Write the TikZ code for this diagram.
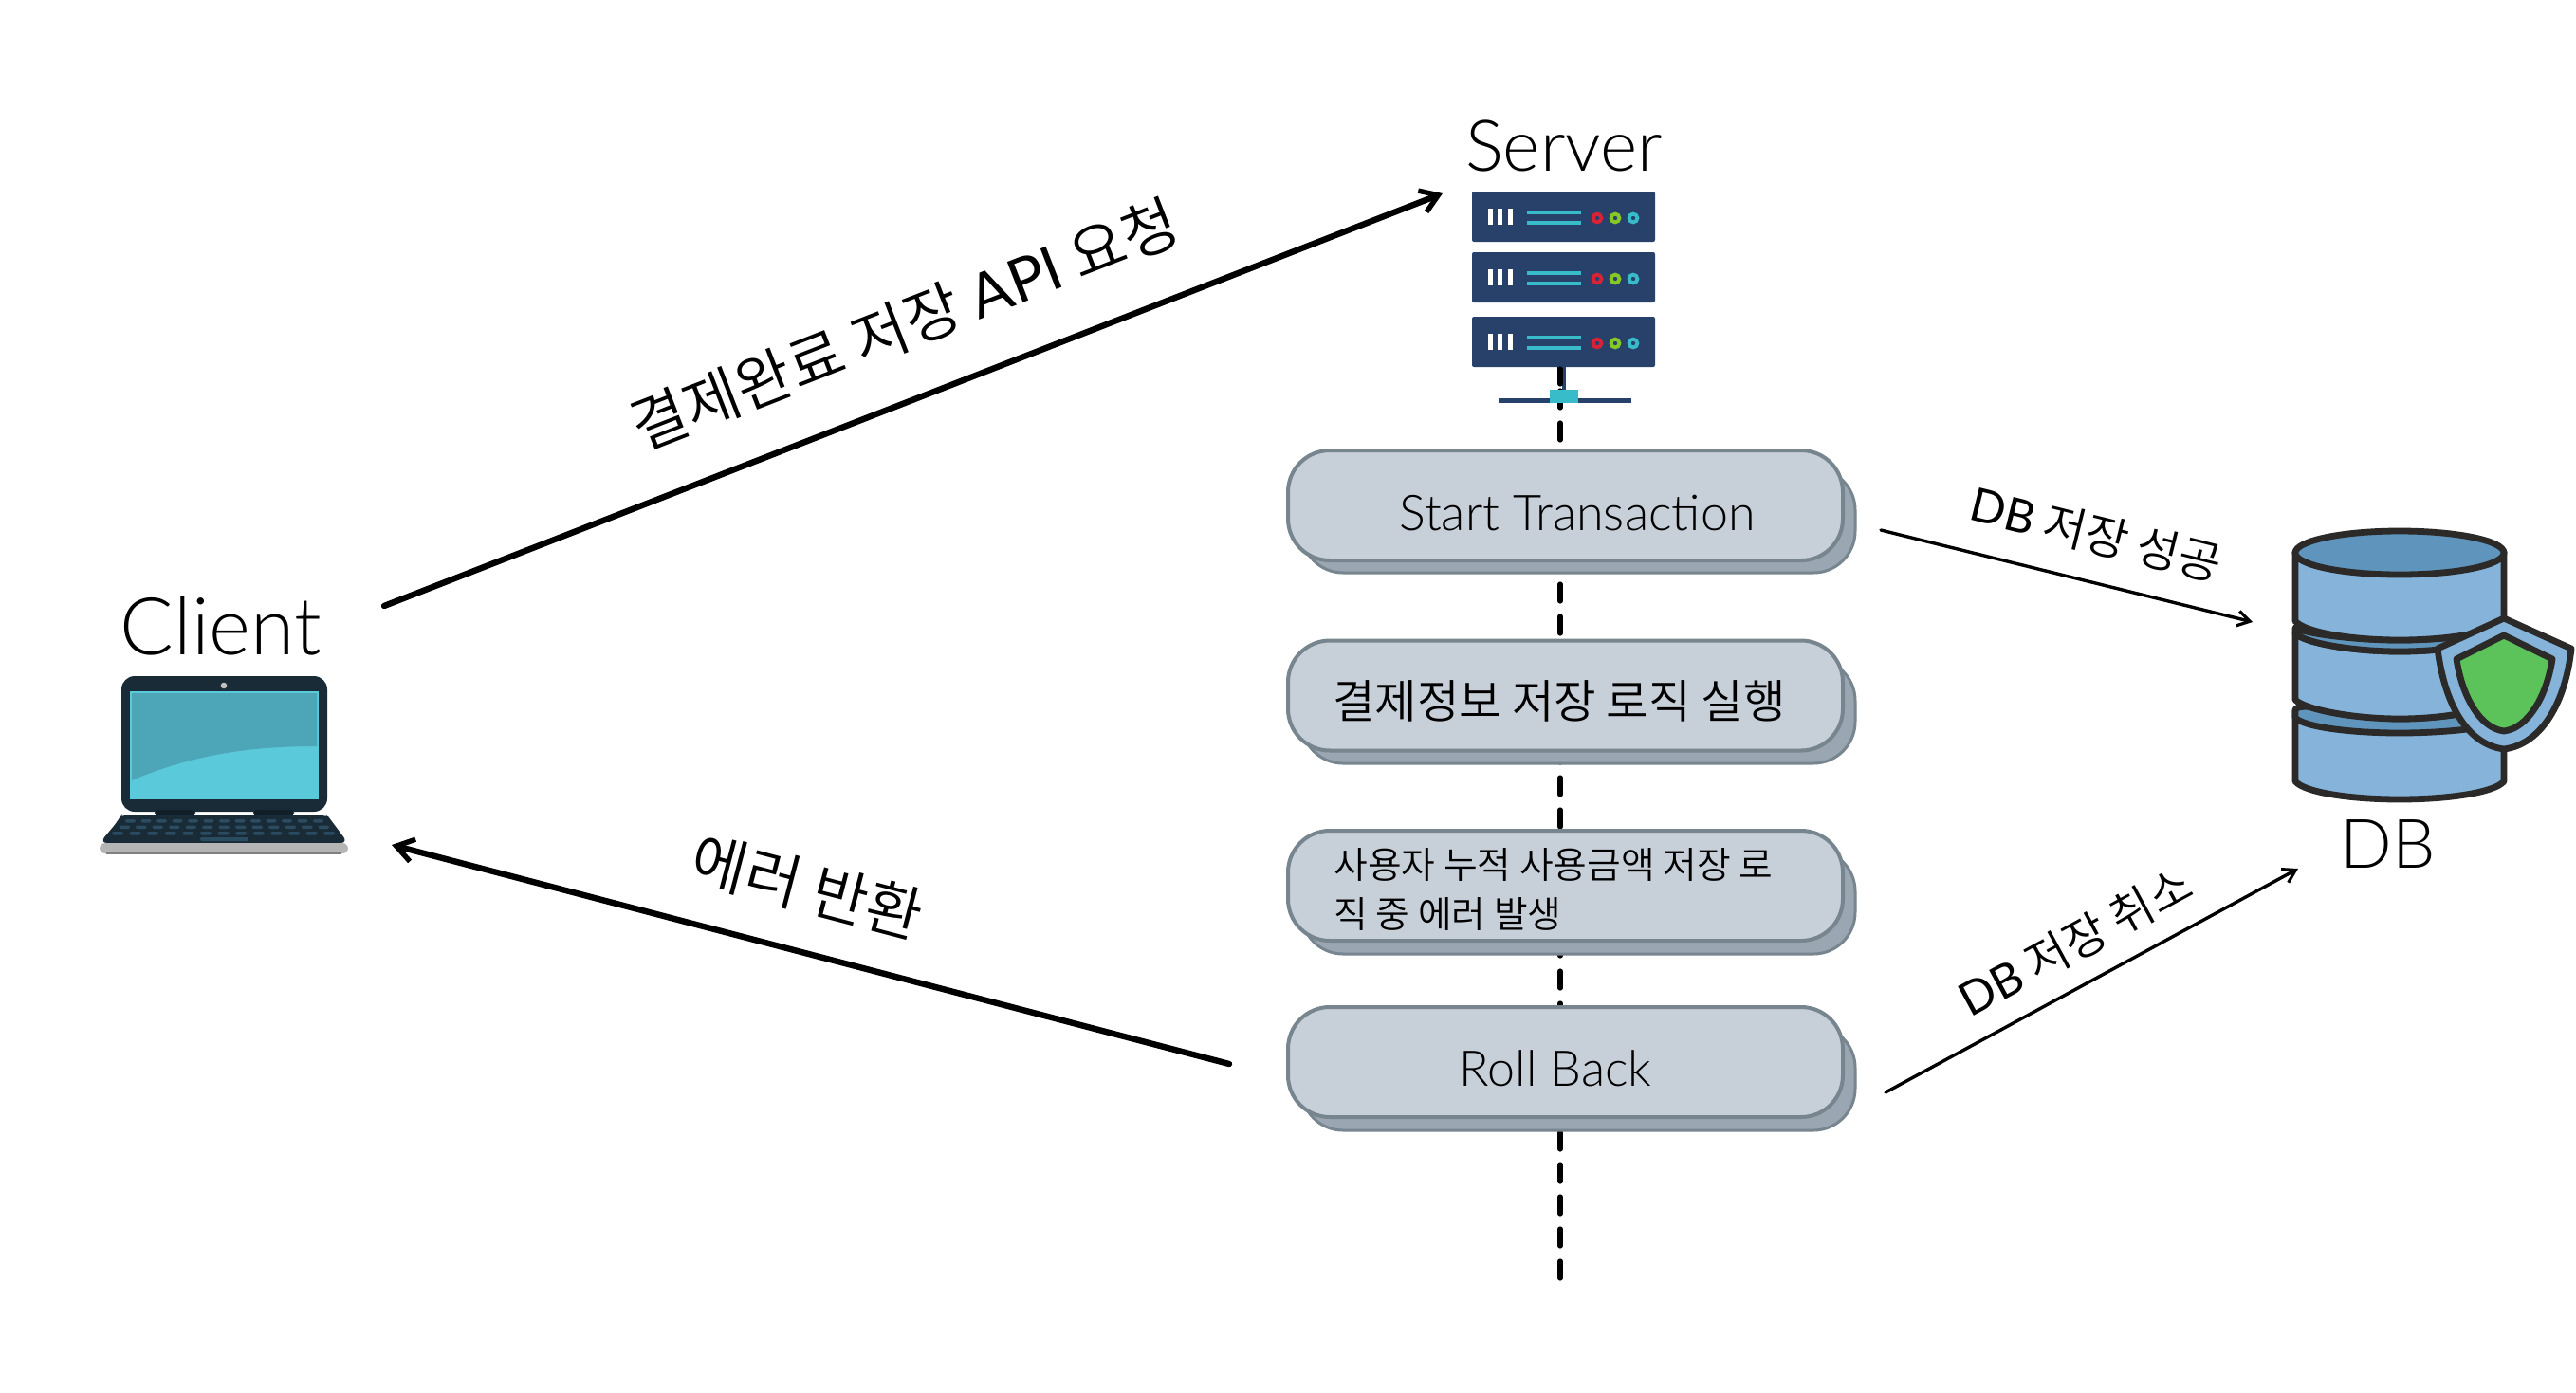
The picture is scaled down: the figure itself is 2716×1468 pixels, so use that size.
\documentclass[tikz,border=0pt]{standalone}
\usepackage{fontspec}
\setmainfont{Lato Light}
\newfontfamily\krfont{Noto Sans CJK KR DemiLight}
\newfontfamily\latfont{Lato}
\usetikzlibrary{arrows.meta,calc}
\definecolor{boxfill}{HTML}{C7CFD9}
\definecolor{boxback}{HTML}{9AA6B2}
\definecolor{boxline}{HTML}{77858F}
\definecolor{rack}{HTML}{28416B}
\definecolor{rackteal}{HTML}{38BCC9}
\definecolor{rackred}{HTML}{D82334}
\definecolor{rackgreen}{HTML}{86C824}
\definecolor{lapdark}{HTML}{1A2B38}
\definecolor{lapdarker}{HTML}{111F29}
\definecolor{lapkey}{HTML}{2B4C60}
\definecolor{lapsilver}{HTML}{B5B5B5}
\definecolor{scr}{HTML}{5AC9D9}
\definecolor{scrdark}{HTML}{4CA6B7}
\definecolor{dbfill}{HTML}{85B3D9}
\definecolor{dbdark}{HTML}{5F94BD}
\definecolor{dbline}{HTML}{2B2A29}
\definecolor{shieldgreen}{HTML}{5CC25A}
\tikzset{
  x=0.5pt,y=-0.5pt,
  frontbox/.style={draw=boxline,line width=2pt,fill=boxfill,rounded corners=22pt,minimum width=292.5pt,minimum height=58pt,inner sep=0pt,align=center},
  backbox/.style={draw=boxline,line width=1.5pt,fill=boxback,rounded corners=22pt,minimum width=292pt,minimum height=55pt,inner sep=0pt},
  boxtext/.style={font=\fontsize{26}{30}\selectfont},
  boxkr/.style={font=\krfont\fontsize{24.2}{29}\selectfont},
  title/.style={inner sep=0pt,anchor=base,font=\fontsize{37.5}{40}\selectfont},
  bigarrow/.style={line width=3.2pt,line cap=round,-{Straight Barb[length=9pt,width=12pt,line width=2.7pt]}},
  thinarrow/.style={line width=1.7pt,line cap=round,-{Straight Barb[length=6.5pt,width=8pt,line width=1.6pt]}},
  biglabel/.style={inner sep=0pt,font=\krfont\fontsize{32}{36}\selectfont},
  smalllabel/.style={inner sep=0pt,font=\krfont\fontsize{24.5}{30}\selectfont},
  dbstroke/.style={draw=dbline,line width=3.4pt,line join=round},
  lifeline/.style={line width=2.6pt,line cap=round,dash pattern=on 9pt off 8pt},
  rackring/.style={line width=1.9pt},
}
\newcommand{\lat}[1]{{\latfont #1}}
\begin{document}
\begin{tikzpicture}
\useasboundingbox (0,0) rectangle (2716,1468);
\fill[white] (0,0) rectangle (2716,1468);

% lifeline
\coordinate (lifetop) at (1645,378);
\coordinate (lifeend) at (1645,1348);
\draw[lifeline] (lifetop) -- (lifeend);

% server icon
\foreach \ry in {202,266,334}{
  \fill[rack,rounded corners=1pt] (1552,\ry) rectangle (1745,\ry+53);
  \foreach \bx in {1569,1579,1590}
    \fill[white] (\bx,\ry+18) rectangle (\bx+4.5,\ry+35);
  \fill[rackteal] (1610,\ry+20) rectangle (1667,\ry+24);
  \fill[rackteal] (1610,\ry+31) rectangle (1667,\ry+35);
  \draw[rackred,rackring] (1684,\ry+28) circle[radius=4.4];
  \draw[rackgreen,rackring] (1703,\ry+28) circle[radius=4.4];
  \draw[rackteal,rackring] (1722,\ry+28) circle[radius=4.4];
}
\fill[rack] (1647,387) rectangle (1651,415);
\fill[rack] (1580,420) rectangle (1720,425);
\draw[line width=2.6pt,line cap=round] (1645,389) -- (1645,405);
\fill[rackteal] (1634,411) rectangle (1664,425);

% boxes
\node[backbox] (s1) at (1664,549) {};
\node[frontbox] (b1) at (1650.5,533) {};
\node[backbox] (s2) at (1664,750) {};
\node[frontbox] (b2) at (1650.5,733.5) {};
\node[backbox] (s3) at (1664,951) {};
\node[frontbox] (b3) at (1650.5,934) {};
\node[backbox] (s4) at (1664,1137) {};
\node[frontbox] (b4) at (1650.5,1120) {};
\node[boxtext,inner sep=0pt] (t1) at (1663,541) {Start Transaction};
\node[boxkr,inner sep=0pt] (t2) at (1644,739) {결제정보 저장 로직 실행};
\node[anchor=west,align=left,inner sep=0pt,font=\krfont\fontsize{19.4}{26}\selectfont] (t3) at (1406,938) {사용자 누적 사용금액 저장 로\\직 중 에러 발생};
\node[boxtext,inner sep=0pt] (t4) at (1640,1127) {Roll Back};

% titles
\node[title] (server) at (1649,180) {Server};
\node[title,font=\fontsize{42}{46}\selectfont] (client) at (233,690) {Client};
\node[title,font=\fontsize{36}{40}\selectfont] (db) at (2518,915) {DB};

% laptop
\fill[lapdark,rounded corners=7pt] (128,713) rectangle (345,856);
\fill[scr] (137,729) rectangle (336,843);
\fill[scrdark] (139,731) -- (334,731) -- (334,787) .. controls (260,787) and (200,797) .. (139,823) -- cycle;
\fill[lightgray] (236,723) circle[radius=3.3];
\fill[lapdarker,rounded corners=2pt] (163,854) rectangle (206,860);
\fill[lapdarker,rounded corners=2pt] (267,854) rectangle (310,860);
\fill[lapdark,rounded corners=4pt] (105,889) -- (125,865) .. controls (127,861) and (130,859) .. (140,859) -- (330,859) .. controls (343,859) and (346,861) .. (349,865) -- (367,889) -- cycle;
\fill[lapsilver,rounded corners=3pt] (105,889) -- (367,889) -- (367,900) -- (105,900) -- cycle;
\fill[gray] (112,898) rectangle (360,900.5);
\foreach \i in {0,...,12}{
  \fill[lapkey,rounded corners=1pt] ({132+\i*16.5},864) rectangle ++(11,3.5);
  \fill[lapkey,rounded corners=1pt] ({125.5+\i*17.5},870.5) rectangle ++(11.5,3.5);
  \fill[lapkey,rounded corners=1pt] ({118+\i*18.6},877) rectangle ++(12,3.5);
}
\fill[lapkey,rounded corners=1pt] (211,883) rectangle (262,887);

% database
\path[fill=dbfill,dbstroke] (2420,804) -- (2420,824) .. controls (2430,836) and (2480,843) .. (2530,843) .. controls (2580,843) and (2630,836) .. (2640,824) -- (2640,760) -- (2420,750) -- cycle;
\path[fill=dbdark,dbstroke] (2420,748) .. controls (2430,738) and (2480,758) .. (2530,758) .. controls (2580,758) and (2630,748) .. (2640,740) -- (2640,760) .. controls (2630,767) and (2580,773) .. (2530,773) .. controls (2480,773) and (2430,767) .. (2420,757) -- cycle;
\path[fill=dbfill,dbstroke] (2420,668) .. controls (2430,678) and (2480,687) .. (2530,687) .. controls (2580,687) and (2630,678) .. (2640,668) -- (2640,735) .. controls (2630,748) and (2580,758) .. (2530,758) .. controls (2480,758) and (2430,748) .. (2420,738) -- cycle;
\path[fill=dbdark,dbstroke] (2420,662) .. controls (2430,668) and (2480,675) .. (2530,675) .. controls (2580,675) and (2630,668) .. (2640,662) -- (2640,668) .. controls (2630,678) and (2580,687) .. (2530,687) .. controls (2480,687) and (2430,678) .. (2420,668) -- cycle;
\path[fill=dbfill,dbstroke] (2420,582) -- (2420,655) .. controls (2430,667) and (2480,675) .. (2530,675) .. controls (2580,675) and (2630,667) .. (2640,655) -- (2640,582) -- cycle;
\path[fill=dbdark,dbstroke] (2530,583) ellipse[x radius=110,y radius=23];
\path[fill=dbfill,dbstroke] (2640,652) -- (2711,684) .. controls (2705,740) and (2680,785) .. (2640,790) .. controls (2600,785) and (2577,740) .. (2570,684) -- cycle;
\path[fill=shieldgreen,dbstroke] (2640,670) -- (2691,695) .. controls (2685,735) and (2665,768) .. (2640,771) .. controls (2615,768) and (2596,735) .. (2590,695) -- cycle;

% connectors
\coordinate (c2sA) at (405,639);
\coordinate (c2sB) at (1521,204);
\coordinate (errA) at (1296,1122);
\coordinate (errB) at (413,891);
\coordinate (okA) at (1983,559);
\coordinate (okB) at (2375,656);
\coordinate (cnA) at (1988,1152);
\coordinate (cnB) at (2423,916);
\draw[bigarrow] (c2sA) -- (c2sB);
\draw[bigarrow] (errA) -- (errB);
\draw[thinarrow] (okA) -- (okB);
\draw[thinarrow] (cnA) -- (cnB);

% labels
\node[biglabel,rotate=21.3] (l1) at (954,342) {결제완료 저장 \lat{API} 요청};
\node[biglabel,rotate=-14.7] (l2) at (851,935) {에러 반환};
\node[smalllabel,rotate=-14] (l3) at (2210,563) {\lat{DB} 저장 성공};
\node[smalllabel,rotate=28.5] (l4) at (2188,993) {\lat{DB} 저장 취소};
\end{tikzpicture}
\end{document}
